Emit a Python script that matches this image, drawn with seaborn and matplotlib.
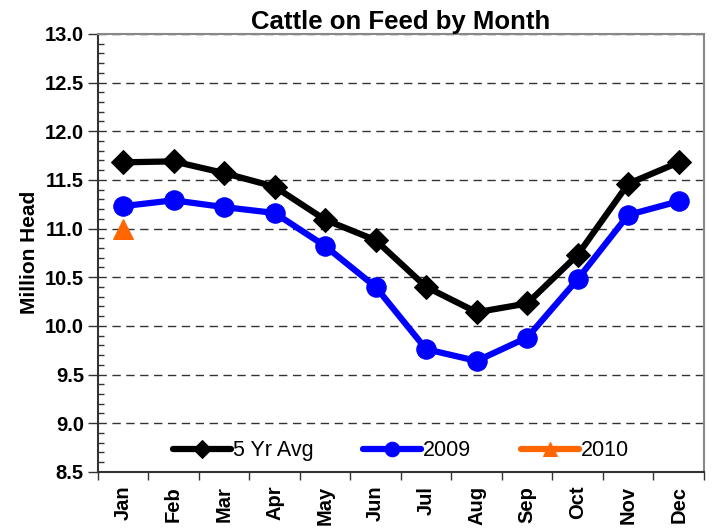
import pandas as pd
import seaborn as sns
import matplotlib
matplotlib.use("Agg")
import matplotlib.pyplot as plt
from matplotlib.ticker import MultipleLocator, FixedLocator

months = ["Jan", "Feb", "Mar", "Apr", "May", "Jun",
          "Jul", "Aug", "Sep", "Oct", "Nov", "Dec"]
avg5 = [11.68, 11.69, 11.57, 11.43, 11.09, 10.88,
        10.40, 10.14, 10.23, 10.73, 11.46, 11.68]
y2009 = [11.23, 11.29, 11.22, 11.16, 10.82, 10.40,
         9.76, 9.64, 9.88, 10.48, 11.14, 11.28]
y2010 = [11.00]

sns.set_style("white")
plt.rcParams['font.family'] = ['Liberation Sans', 'DejaVu Sans']
plt.rcParams['text.color'] = 'black'
plt.rcParams['xtick.color'] = 'black'
plt.rcParams['ytick.color'] = 'black'
plt.rcParams['axes.labelcolor'] = 'black'

fig, ax = plt.subplots(figsize=(7.14, 5.29), dpi=100)
fig.subplots_adjust(left=0.137, right=0.986, top=0.936, bottom=0.108)

pos = list(range(len(months)))

sns.lineplot(x=pos, y=avg5, ax=ax, color="black", lw=4.5, marker="D",
             markersize=12, markeredgecolor="black", label="5 Yr Avg")
sns.lineplot(x=pos, y=y2009, ax=ax, color="#0000FF", lw=4.5, marker="o",
             markersize=14, markeredgecolor="#0000FF", label="2009")
sns.lineplot(x=pos[:len(y2010)], y=y2010, ax=ax, color="#FF6600", lw=4.5,
             marker="^", markersize=14, markeredgecolor="#FF6600", label="2010")

ax.set_xlim(-0.5, 11.5)
ax.set_ylim(8.5, 13.0)

# y axis
ax.yaxis.set_major_locator(MultipleLocator(0.5))
ax.yaxis.set_minor_locator(MultipleLocator(0.1))
ax.yaxis.set_major_formatter(matplotlib.ticker.FormatStrFormatter("%.1f"))
ax.tick_params(axis="y", which="major", left=True, direction="out", length=7,
               width=1, color="#333333", labelsize=14.5, pad=3)
ax.tick_params(axis="y", which="minor", left=True, direction="in", length=4,
               width=1, color="#333333")
for lab in ax.get_yticklabels():
    lab.set_fontweight("bold")
ax.grid(axis="y", which="major", color="#333333", ls=(0, (6, 4)), lw=1)

# x axis: ticks on category boundaries, labels at centres
ax.xaxis.set_major_locator(FixedLocator([i - 0.5 for i in range(13)]))
ax.xaxis.set_major_formatter(matplotlib.ticker.NullFormatter())
ax.xaxis.set_minor_locator(FixedLocator(pos))
ax.xaxis.set_minor_formatter(matplotlib.ticker.FixedFormatter(months))
ax.tick_params(axis="x", which="major", bottom=True, direction="out",
               length=6, width=1, color="#333333")
ax.tick_params(axis="x", which="minor", bottom=True, length=0,
               labelsize=14.5, labelrotation=90, pad=10)
for lab in ax.get_xticklabels(minor=True):
    lab.set_fontweight("bold")

for side in ["left", "bottom"]:
    ax.spines[side].set_color("#333333")
    ax.spines[side].set_linewidth(1.5)
for side in ["top", "right"]:
    ax.spines[side].set_color("#888888")
    ax.spines[side].set_linewidth(1.5)

ax.set_ylabel("Million Head", fontsize=15, fontweight="bold", labelpad=4)
ax.set_title("Cattle on Feed by Month", fontsize=18.5, fontweight="bold",
             pad=2)

leg = ax.legend(loc="lower center", ncol=3, frameon=False, fontsize=15.5,
                handlelength=2.7, handletextpad=0.1, columnspacing=2.3,
                markerscale=0.75, bbox_to_anchor=(0.5, -0.02))

fig.savefig("out.png", dpi=100)
